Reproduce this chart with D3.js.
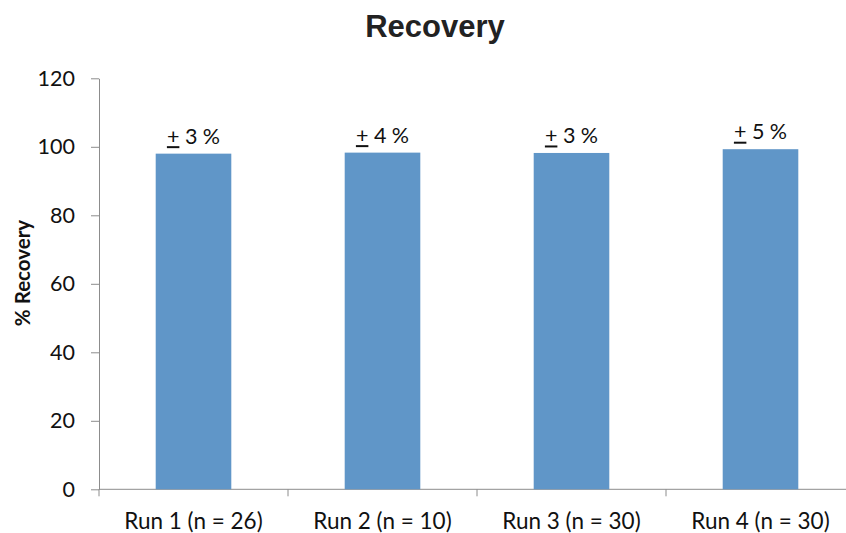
<!DOCTYPE html>
<html>
<head>
<meta charset="utf-8">
<script src="https://cdn.jsdelivr.net/npm/d3@7"></script>
<style>
  html, body { margin: 0; padding: 0; background: #fff; }
  svg { display: block; }
  text { font-family: Lato, "Open Sans", sans-serif; }
</style>
</head>
<body>
<svg id="chart" width="846" height="533"></svg>
<script>
// Mean recovery per run and its spread (±%)
const runs = ["Run 1 (n = 26)", "Run 2 (n = 10)", "Run 3 (n = 30)", "Run 4 (n = 30)"];
const recovery = [98.0, 98.3, 98.2, 99.3];
const spread = [3, 4, 3, 5];
const yTicks = [0, 20, 40, 60, 80, 100, 120];

(function () {
  const svg = d3.select("#chart");
  const plotLeft = 99, plotRight = 855, plotTop = 78.3, plotBottom = 489.3;
  const axisColor = "#8c8c8c";

  const x = d3.scaleBand().domain(runs).range([plotLeft, plotRight]).paddingInner(0.6).paddingOuter(0.3);
  const y = d3.scaleLinear().domain([0, 120]).range([plotBottom, plotTop]);

  // Title
  svg.append("text")
    .attr("x", 435).attr("y", 37)
    .attr("text-anchor", "middle")
    .style("font-family", "'Liberation Sans', Arial, sans-serif")
    .style("font-weight", "bold")
    .style("font-size", "31px")
    .attr("fill", "#222")
    .text("Recovery");

  // Y axis
  const yAxis = svg.append("g")
    .attr("transform", `translate(${plotLeft},0)`)
    .call(d3.axisLeft(y).tickValues(yTicks).tickSize(8).tickPadding(16).tickSizeOuter(0));
  yAxis.select(".domain").attr("stroke", axisColor);
  yAxis.selectAll(".tick line").attr("stroke", axisColor);
  yAxis.selectAll(".tick text")
    .style("font-family", "Lato, sans-serif")
    .style("font-size", "21.5px")
    .attr("fill", "#111");

  // X axis with ticks at the category boundaries
  const xAxisG = svg.append("g").attr("transform", `translate(0,${plotBottom})`);
  xAxisG.append("line")
    .attr("x1", plotLeft).attr("x2", plotRight)
    .attr("stroke", axisColor);
  const edges = d3.range(runs.length + 1).map(i => plotLeft + i * x.step());
  xAxisG.selectAll("line.tk").data(edges).join("line")
    .attr("class", "tk")
    .attr("x1", d => d).attr("x2", d => d)
    .attr("y1", 0).attr("y2", 7)
    .attr("stroke", axisColor);
  xAxisG.selectAll("text").data(runs).join("text")
    .attr("x", d => x(d) + x.bandwidth() / 2)
    .attr("y", 40)
    .attr("text-anchor", "middle")
    .style("font-size", "22.5px")
    .attr("fill", "#111")
    .text(d => d);

  // Y axis title
  svg.append("text")
    .attr("transform", "translate(29.5,273) rotate(-90)")
    .attr("text-anchor", "middle")
    .style("font-weight", "bold")
    .style("font-size", "20.5px")
    .attr("fill", "#111")
    .text("% Recovery");

  // Bars
  svg.selectAll("rect.bar").data(runs).join("rect")
    .attr("class", "bar")
    .attr("x", d => x(d))
    .attr("width", x.bandwidth())
    .attr("y", (d, i) => y(recovery[i]))
    .attr("height", (d, i) => y(0) - y(recovery[i]))
    .attr("fill", "#6096c8");

  // Spread labels: underlined plus sign followed by the value
  const labels = svg.selectAll("g.lbl").data(runs).join("g").attr("class", "lbl");
  labels.each(function (d, i) {
    const g = d3.select(this);
    const cx = x(d) + x.bandwidth() / 2;
    const by = y(recovery[i]) - 10;
    const t = g.append("text")
      .attr("x", cx).attr("y", by)
      .attr("text-anchor", "middle")
      .style("font-size", "21.5px")
      .attr("fill", "#111");
    t.append("tspan").text("+");
    t.append("tspan").text(` ${spread[i]} %`);
    const node = t.node();
    const s = node.getStartPositionOfChar(0);
    const e = node.getEndPositionOfChar(0);
    g.append("line")
      .attr("x1", s.x).attr("x2", e.x)
      .attr("y1", by + 3.5).attr("y2", by + 3.5)
      .attr("stroke", "#111").attr("stroke-width", 2);
  });
})();
</script>
</body>
</html>
